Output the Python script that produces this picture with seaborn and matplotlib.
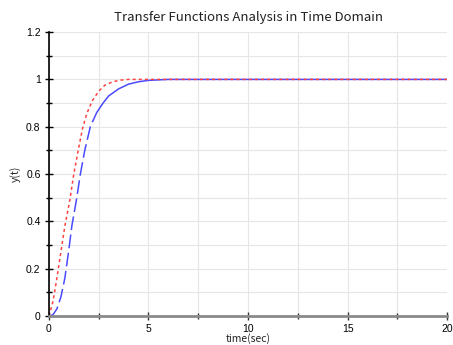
import numpy as np
import pandas as pd
import matplotlib.pyplot as plt
import seaborn as sns
from matplotlib.ticker import MultipleLocator

# Valores
t_red = [0, 0.2, 0.4, 0.6, 0.8, 1.05, 1.25, 1.47, 1.68, 1.9, 2.18, 2.5, 2.8,
         3.2, 3.6, 4.0, 5, 20]
y_red = [0, 0.06, 0.16, 0.27, 0.38, 0.49, 0.6, 0.7, 0.79, 0.855, 0.91, 0.95,
         0.975, 0.99, 0.997, 1, 1, 1]

t_blue = [0, 0.2, 0.4, 0.6, 0.8, 1.0, 1.15, 1.38, 1.58, 1.8, 2.08, 2.4, 2.72,
          3.0, 3.5, 4.0, 4.5, 5, 6, 20]
y_blue = [0, 0.005, 0.03, 0.08, 0.16, 0.28, 0.38, 0.49, 0.6, 0.7, 0.8, 0.86,
          0.9, 0.93, 0.96, 0.98, 0.99, 0.996, 1, 1]

sns.set_style("white")
plt.rcParams['font.family'] = ['Noto Sans CJK KR', 'DejaVu Sans']

red = pd.DataFrame({"t": t_red, "y": y_red})
blue = pd.DataFrame({"t": t_blue, "y": y_blue})
split = 11  # a partir daqui a linha azul fica contínua
blue_a = blue.iloc[:split + 1]
blue_b = blue.iloc[split:]

fig = plt.figure(figsize=(4.53, 3.45), dpi=100)
ax = fig.add_axes([0.108, 0.084, 0.879, 0.823])

sns.lineplot(data=blue_a, x="t", y="y", ax=ax, color="#4a4aff", lw=1.1,
             estimator=None, sort=False)
ax.lines[-1].set_dashes([9, 3])
sns.lineplot(data=blue_b, x="t", y="y", ax=ax, color="#4a4aff", lw=1.1,
             estimator=None, sort=False)
sns.lineplot(data=red, x="t", y="y", ax=ax, color="#ff4040", lw=1.1,
             estimator=None, sort=False)
ax.lines[-1].set_dashes([2, 2])

ax.set_xlim(0, 20)
ax.set_ylim(0, 1.2)
ax.xaxis.set_major_locator(MultipleLocator(5))
ax.xaxis.set_minor_locator(MultipleLocator(2.5))
ax.yaxis.set_minor_locator(MultipleLocator(0.1))
ax.set_yticks([0, 0.2, 0.4, 0.6, 0.8, 1, 1.2])
ax.set_yticklabels(["0", "0.2", "0.4", "0.6", "0.8", "1", "1.2"])
ax.grid(True, which="both", color="#e6e6e6", lw=0.8)
ax.set_axisbelow(True)

for s in ["top", "right"]:
    ax.spines[s].set_visible(False)
ax.spines["left"].set_color("black")
ax.spines["left"].set_linewidth(1.2)
ax.spines["bottom"].set_color("#8a8a8a")
ax.spines["bottom"].set_linewidth(2)

ax.tick_params(axis="both", which="both", direction="inout", bottom=True,
               left=True, length=6, width=1, colors="black", pad=3,
               labelsize=7.5, labelfontfamily="Liberation Sans")
ax.tick_params(axis="x", which="both", colors="#333333", labelcolor="black")
ax.tick_params(axis="both", which="minor", length=5)

ax.set_title("Transfer Functions Analysis in Time Domain", fontsize=9.5,
             pad=8, color="#222222")
ax.set_xlabel("time(sec)", fontsize=7.5, labelpad=-1)
ax.set_ylabel("y(t)", fontsize=7.5, labelpad=4)

fig.savefig("out.png", dpi=100)
